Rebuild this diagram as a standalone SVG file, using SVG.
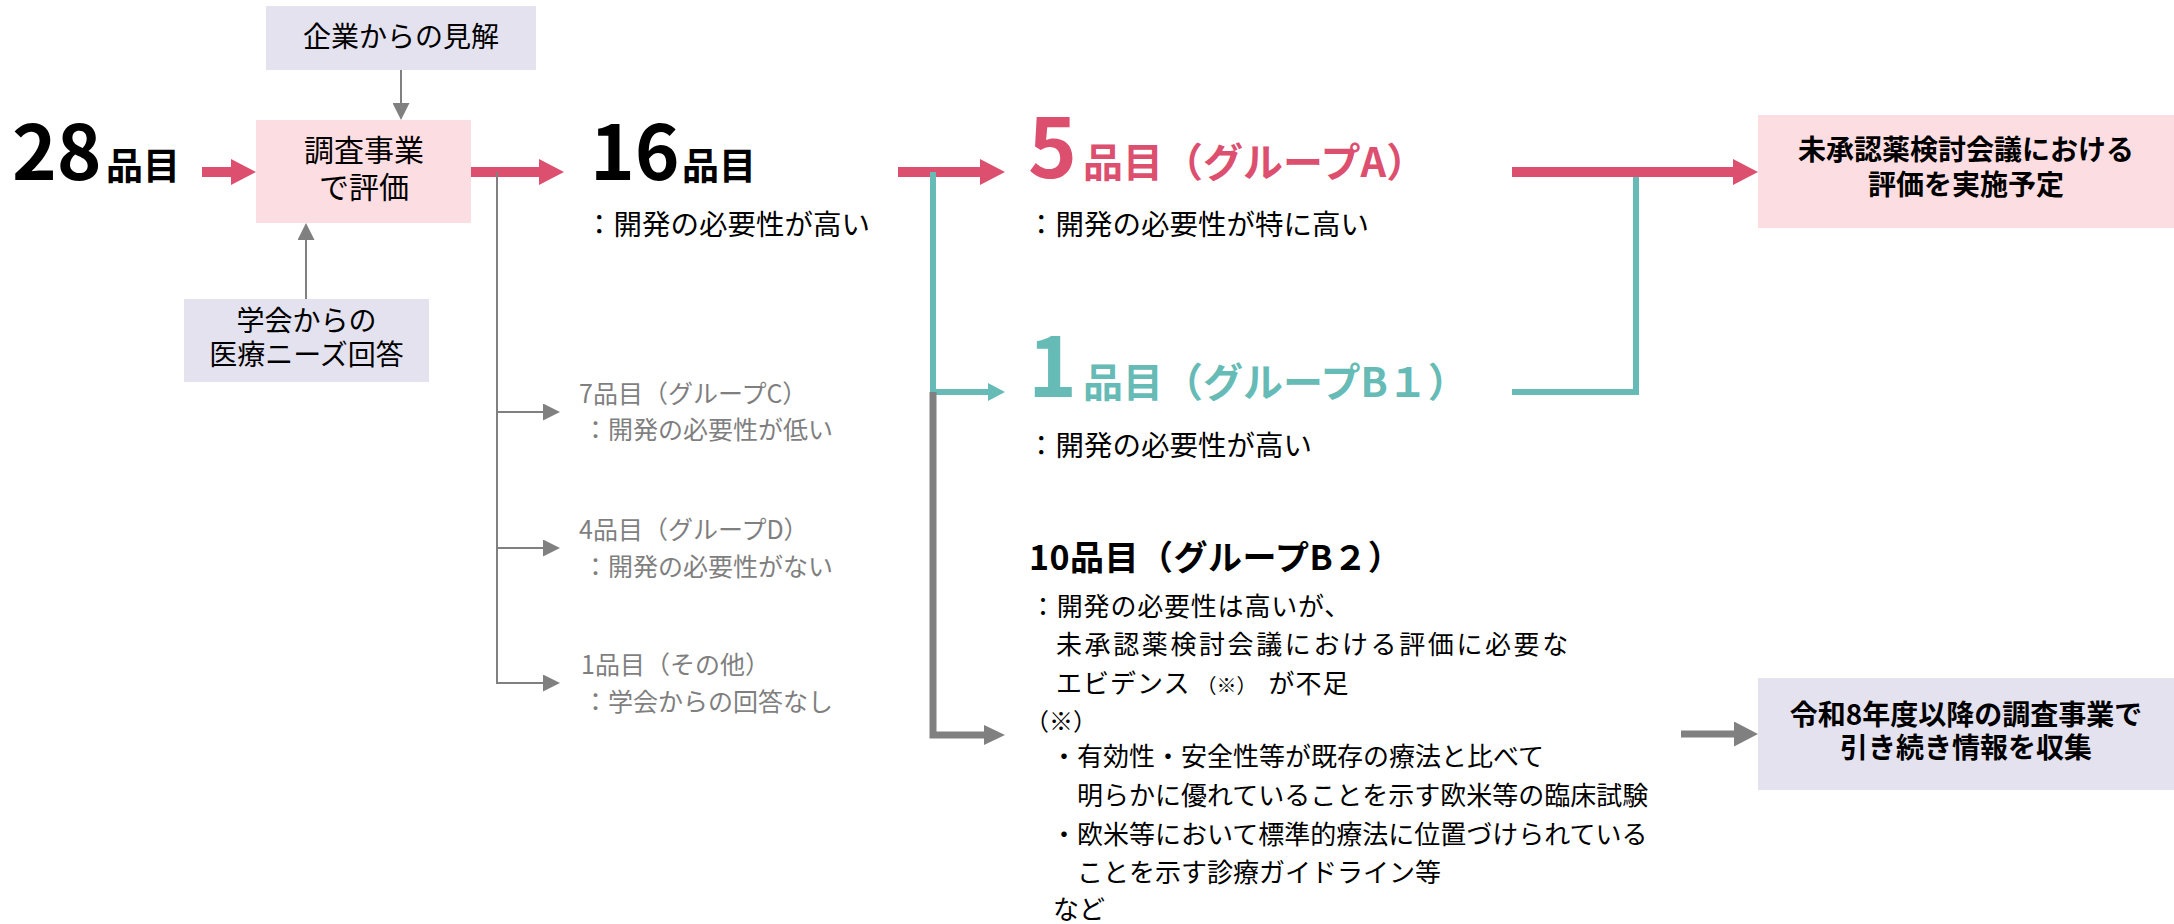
<svg xmlns="http://www.w3.org/2000/svg" width="2174" height="924" viewBox="0 0 2174 924">
<style>
text{font-family:"Noto Sans CJK JP","Noto Sans",sans-serif;}
.box-lav{fill:#E4E2EE;}
.box-pink{fill:#FCDDE1;}
.bt{font-size:28px;fill:#000;text-anchor:middle;}
.btb{font-size:28px;font-weight:700;fill:#000;text-anchor:middle;}
.desc{font-size:28.5px;fill:#000;}
.gray{font-size:25px;fill:#7F7F7F;}
.b2{font-size:26px;fill:#000;}
.ln-pink{stroke:#DD4F6F;stroke-width:10;fill:none;}
.ln-teal{stroke:#66BBB6;stroke-width:6;fill:none;}
.ln-grayb{stroke:#808080;stroke-width:7;fill:none;}
.ln-grayt{stroke:#808080;stroke-width:2;fill:none;}
</style>
<defs>
<marker id="ahPink" markerUnits="userSpaceOnUse" markerWidth="25" markerHeight="26" viewBox="0 0 25 26" refX="0" refY="13" orient="auto"><path d="M0,0 L25,13 L0,26 Z" fill="#DD4F6F"/></marker>
<marker id="ahTeal" markerUnits="userSpaceOnUse" markerWidth="17" markerHeight="18" viewBox="0 0 17 18" refX="0" refY="9" orient="auto"><path d="M0,0 L17,9 L0,18 Z" fill="#66BBB6"/></marker>
<marker id="ahGrayB" markerUnits="userSpaceOnUse" markerWidth="21" markerHeight="20" viewBox="0 0 21 20" refX="0" refY="10" orient="auto"><path d="M0,0 L21,10 L0,20 Z" fill="#808080"/></marker>
<marker id="ahGrayL" markerUnits="userSpaceOnUse" markerWidth="24" markerHeight="25" viewBox="0 0 24 25" refX="0" refY="12.5" orient="auto"><path d="M0,0 L24,12.5 L0,25 Z" fill="#808080"/></marker>
<marker id="ahGrayS" markerUnits="userSpaceOnUse" markerWidth="17" markerHeight="17" viewBox="0 0 17 17" refX="0" refY="8.5" orient="auto"><path d="M0,0 L17,8.5 L0,17 Z" fill="#808080"/></marker>
</defs>
<rect width="2174" height="924" fill="#FFFFFF"/>

<g id="connectors">
<path class="ln-grayt" d="M401,70 V103" marker-end="url(#ahGrayS)"/>
<path class="ln-grayt" d="M306,299 V240" marker-end="url(#ahGrayS)"/>
<path class="ln-pink" d="M202,172 H231" marker-end="url(#ahPink)"/>
<path class="ln-pink" d="M471,172 H539" marker-end="url(#ahPink)"/>
<path class="ln-grayt" d="M497,172 V683"/>
<path class="ln-grayt" d="M497,412 H543" marker-end="url(#ahGrayS)"/>
<path class="ln-grayt" d="M497,548 H543" marker-end="url(#ahGrayS)"/>
<path class="ln-grayt" d="M496,683 H543" marker-end="url(#ahGrayS)"/>
<path class="ln-pink" d="M898,172 H980" marker-end="url(#ahPink)"/>
<path class="ln-teal" d="M933,172 V392 H988" marker-end="url(#ahTeal)"/>
<path class="ln-grayb" d="M933,392 V735 H984" marker-end="url(#ahGrayB)"/>
<path class="ln-pink" d="M1512,172 H1733" marker-end="url(#ahPink)"/>
<path class="ln-teal" d="M1512,392 H1636 V177"/>
<path class="ln-grayb" d="M1681,734 H1734" stroke-width="8" marker-end="url(#ahGrayL)"/>
</g>

<g id="n-kigyo">
<rect class="box-lav" x="266" y="6" width="270" height="64"/>
<text class="bt" x="401" y="47" font-size="29">企業からの見解</text>
</g>

<g id="n-chousa">
<rect class="box-pink" x="256" y="120" width="215" height="103"/>
<text class="bt" style="font-size:30px"><tspan x="364" y="161">調査事業</tspan><tspan x="364" y="198">で評価</tspan></text>
</g>

<g id="n-gakkai">
<rect class="box-lav" x="184" y="299" width="245" height="83"/>
<text class="bt"><tspan x="306.5" y="331">学会からの</tspan><tspan x="306.5" y="365">医療ニーズ回答</tspan></text>
</g>

<g id="n-28">
<text x="12" y="180" style="font-size:76px;font-weight:700" fill="#000">28<tspan x="106" style="font-size:37px">品目</tspan></text>
</g>

<g id="n-16">
<text x="590" y="180" style="font-size:76px;font-weight:700" fill="#000">16<tspan x="682" style="font-size:37px">品目</tspan></text>
<text class="desc" x="585" y="235">：開発の必要性が高い</text>
</g>

<g id="n-c">
<text class="gray"><tspan x="579" y="403">7品目（グループC）</tspan><tspan x="583" y="439">：開発の必要性が低い</tspan></text>
</g>
<g id="n-d">
<text class="gray"><tspan x="579" y="539">4品目（グループD）</tspan><tspan x="583" y="576">：開発の必要性がない</tspan></text>
</g>
<g id="n-other">
<text class="gray"><tspan x="581" y="674">1品目（その他）</tspan><tspan x="583" y="711">：学会からの回答なし</tspan></text>
</g>

<g id="n-a">
<text y="178" style="font-weight:700" fill="#DD4F6F"><tspan x="1028" style="font-size:83px">5</tspan><tspan x="1083" y="177" style="font-size:40px">品目（グループA）</tspan></text>
<text class="desc" x="1027" y="235">：開発の必要性が特に高い</text>
</g>

<g id="n-b1">
<text y="397" style="font-weight:700" fill="#66BBB6"><tspan x="1028" style="font-size:83px">1</tspan><tspan x="1083" style="font-size:40px">品目（グループB１）</tspan></text>
<text class="desc" x="1027" y="456">：開発の必要性が高い</text>
</g>

<g id="n-b2">
<text x="1029" y="570" style="font-size:34px;font-weight:700;letter-spacing:0.5px" fill="#000">10品目（グループB２）</text>
<text class="b2">
<tspan x="1030" y="616" style="letter-spacing:0.8px">：開発の必要性は高いが、</tspan>
<tspan x="1056" y="654" style="letter-spacing:2.6px">未承認薬検討会議における評価に必要な</tspan>
<tspan x="1056" y="693" style="letter-spacing:1px">エビデンス</tspan><tspan style="font-size:20px;letter-spacing:0" dx="6">（※）</tspan><tspan dx="12" style="letter-spacing:1px">が不足</tspan>
<tspan x="1025" y="730" style="font-size:24px">（※）</tspan>
<tspan x="1051" y="766">・有効性・安全性等が既存の療法と比べて</tspan>
<tspan x="1077" y="805">明らかに優れていることを示す欧米等の臨床試験</tspan>
<tspan x="1051" y="844">・欧米等において標準的療法に位置づけられている</tspan>
<tspan x="1077" y="882">ことを示す診療ガイドライン等</tspan>
<tspan x="1053" y="919">など</tspan>
</text>
</g>

<g id="n-kaigi">
<rect class="box-pink" x="1758" y="115" width="416" height="113"/>
<text class="btb"><tspan x="1966" y="160">未承認薬検討会議における</tspan><tspan x="1966" y="195">評価を実施予定</tspan></text>
</g>

<g id="n-r8">
<rect class="box-lav" x="1758" y="678" width="416" height="112"/>
<text class="btb"><tspan x="1966" y="725">令和8年度以降の調査事業で</tspan><tspan x="1966" y="758">引き続き情報を収集</tspan></text>
</g>
</svg>
